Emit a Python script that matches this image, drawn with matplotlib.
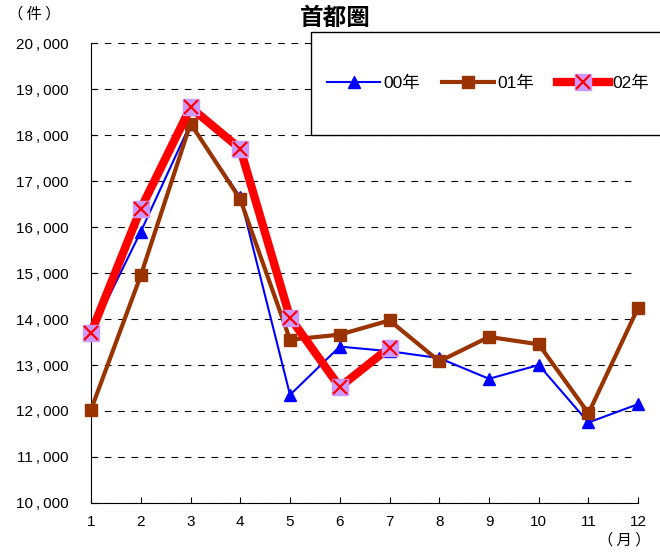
import matplotlib
matplotlib.use('Agg')
import matplotlib.pyplot as plt
from matplotlib.patches import Rectangle
from matplotlib.legend_handler import HandlerTuple

plt.rcParams['font.family'] = ['Liberation Sans', 'Noto Sans CJK JP', 'DejaVu Sans']

# データ
months = [1, 2, 3, 4, 5, 6, 7, 8, 9, 10, 11, 12]
y00 = [13700, 15900, 18250, 16650, 12350, 13400, 13300, 13150, 12700, 13000, 11750, 12150]
y01 = [12030, 14950, 18250, 16600, 13550, 13660, 13970, 13080, 13610, 13450, 11950, 14250]
months02 = [1, 2, 3, 4, 5, 6, 7]
y02 = [13700, 16400, 18600, 17700, 14030, 12520, 13380]
yticks = [10000, 11000, 12000, 13000, 14000, 15000, 16000, 17000, 18000, 19000, 20000]

fig = plt.figure(figsize=(6.6, 5.55), dpi=100)
ax = fig.add_axes([0.138, 0.0937, 0.829, 0.8288])

l00, = ax.plot(months, y00, color='#0000FF', lw=1.5, marker='^', ms=9,
               mec='#0000FF', mfc='#0000FF', label='00年', zorder=3, clip_on=False)
l01, = ax.plot(months, y01, color='#993300', lw=3, marker='s', ms=9,
               mec='#993300', mfc='#993300', label='01年', zorder=4, clip_on=False)
l02, = ax.plot(months02, y02, color='#FF0000', lw=6, marker='s', ms=11,
               mfc='#CC99FF', mec='#CC99FF', zorder=5, clip_on=False)
x02, = ax.plot(months02, y02, ls='none', marker='x', ms=10, mew=1.6,
               color='#FF0000', zorder=6, clip_on=False)

ax.set_xlim(1, 12)
ax.set_ylim(10000, 20000)
ax.set_xticks(months)
ax.set_yticks(yticks)
ax.set_yticklabels([f'{v:,}'.replace(',', '\u2009,\u2009') for v in yticks])
ax.tick_params(labelsize=11, direction='in', length=4, color='black')
ax.tick_params(axis='y', pad=16)
ax.tick_params(axis='x', pad=9)
ax.yaxis.grid(True, linestyle=(0, (6, 6)), color='black', lw=0.8)
ax.set_axisbelow(True)
for s in ['top', 'right']:
    ax.spines[s].set_visible(False)

jp = ['Noto Sans CJK JP', 'DejaVu Sans']
fig.text(0.508, 0.968, '首都圏', ha='center', va='center', fontsize=17,
         fontweight='bold', family=jp)
fig.text(0.012, 0.975, '（ 件 ）', ha='left', va='center', fontsize=11, family=jp)
fig.text(0.985, 0.012, '（ 月 ）', ha='right', va='bottom', fontsize=11, family=jp)

# 凡例の枠
fig.add_artist(Rectangle((0.471, 0.757), 0.54, 0.186, transform=fig.transFigure,
                         fill=True, facecolor='white', edgecolor='black', lw=1, zorder=7))
leg = fig.legend([l00, l01, (l02, x02)], ['00年', '01年', '02年'],
                 handler_map={tuple: HandlerTuple(ndivide=1)},
                 loc='center', bbox_to_anchor=(0.74, 0.85), ncol=3, frameon=False,
                 fontsize=12.5, handlelength=3.0, columnspacing=1.3, handletextpad=0.2)
leg.set_zorder(8)

fig.savefig('out.png', dpi=100)
